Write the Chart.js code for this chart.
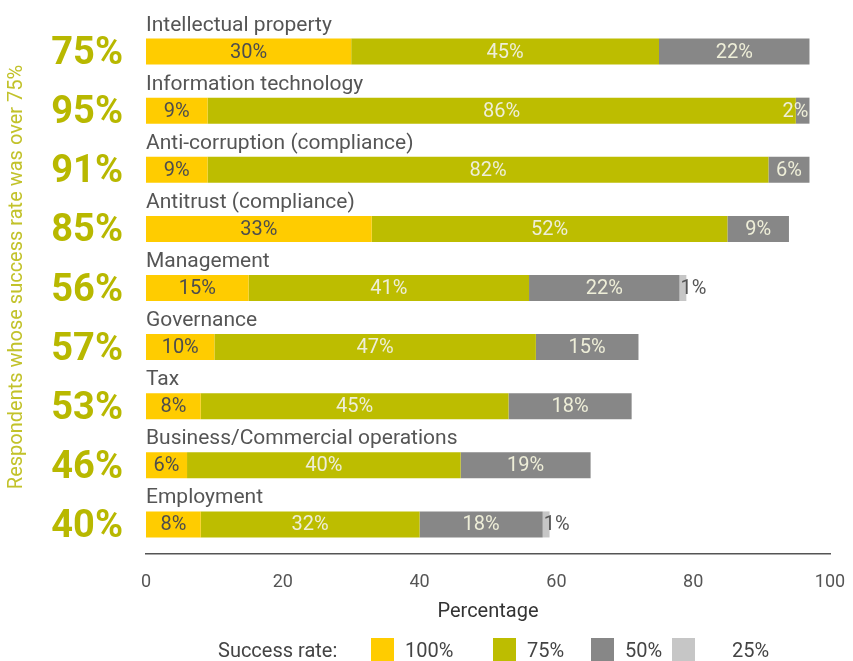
<!DOCTYPE html>
<html lang="en">
<head>
    <meta charset="UTF-8">
    <title>Success rate by area</title>
    <script src="https://cdn.jsdelivr.net/npm/chart.js"></script>
    <style>
        body {
            margin: 0;
            background: #ffffff;
        }
        .chart-box {
            width: 853px;
            height: 661px;
        }
    </style>
</head>
<body>
    <div class="chart-box">
        <canvas id="rateChart"></canvas>
    </div>

    <script>
        const categories = [
            "Intellectual property",
            "Information technology",
            "Anti-corruption (compliance)",
            "Antitrust (compliance)",
            "Management",
            "Governance",
            "Tax",
            "Business/Commercial operations",
            "Employment"
        ];
        // share of respondents whose success rate was over 75%
        const over75 = [75, 95, 91, 85, 56, 57, 53, 46, 40];

        const rate100 = [30, 9, 9, 33, 15, 10, 8, 6, 8];
        const rate75 = [45, 86, 82, 52, 41, 47, 45, 40, 32];
        const rate50 = [22, 2, 6, 9, 22, 15, 18, 19, 18];
        const rate25 = [0, 0, 0, 0, 1, 0, 0, 0, 1];

        const seriesNames = ["100%", "75%", "50%", "25%"];
        const xTicks = [0, 20, 40, 60, 80, 100];

        const colors = ["#ffcc00", "#bdbd00", "#878787", "#c6c6c6"];
        const FONT = "Roboto, 'DejaVu Sans', sans-serif";

        // labels inside the bars, names above them, side title, legend at the bottom
        const extrasPlugin = {
            id: "extras",
            afterDatasetsDraw(chart) {
                const ctx = chart.ctx;
                const yScale = chart.scales.y;
                const area = chart.chartArea;
                ctx.save();

                ctx.font = "21px " + FONT;
                ctx.fillStyle = "#555555";
                ctx.textAlign = "left";
                ctx.textBaseline = "alphabetic";
                categories.forEach((name, i) => {
                    ctx.fillText(name, area.left, yScale.getPixelForValue(i) - 21);
                });

                ctx.font = "20px " + FONT;
                ctx.textBaseline = "middle";
                chart.data.datasets.forEach((ds, d) => {
                    const meta = chart.getDatasetMeta(d);
                    meta.data.forEach((bar, i) => {
                        const v = ds.data[i];
                        if (!v) return;
                        const text = v + "%";
                        const w = ctx.measureText(text).width;
                        const left = Math.min(bar.x, bar.base);
                        const right = Math.max(bar.x, bar.base);
                        if (d === 3) {
                            ctx.fillStyle = "#555555";
                            ctx.textAlign = "left";
                            ctx.fillText(text, left + 1, bar.y + 1);
                        } else if (w > right - left - 2) {
                            ctx.fillStyle = "#eeeed8";
                            ctx.textAlign = "right";
                            ctx.fillText(text, right - 1, bar.y + 1);
                        } else {
                            ctx.fillStyle = d === 0 ? "#4d4d4d" : "#eeeed8";
                            ctx.textAlign = "center";
                            ctx.fillText(text, (left + right) / 2, bar.y + 1);
                        }
                    });
                });

                // rotated side title
                ctx.save();
                ctx.translate(17, 277);
                ctx.rotate(-Math.PI / 2);
                ctx.font = "20px " + FONT;
                ctx.fillStyle = "#c2c22a";
                ctx.textAlign = "center";
                ctx.fillText("Respondents whose success rate was over 75%", 0, 0);
                ctx.restore();

                // legend
                ctx.font = "20px " + FONT;
                ctx.textAlign = "left";
                ctx.textBaseline = "middle";
                ctx.fillStyle = "#444444";
                const ly = 652;
                ctx.fillText("Success rate:", 218, ly);
                const boxX = [371, 493, 591, 672];
                seriesNames.forEach((s, k) => {
                    ctx.fillStyle = colors[k];
                    ctx.fillRect(boxX[k], 638, 23, 26);
                    ctx.fillStyle = "#444444";
                    ctx.fillText(s, boxX[k] + (k === 3 ? 60 : 34), ly);
                });
                ctx.restore();
            }
        };

        const ctx = document.getElementById("rateChart").getContext("2d");

        const rateChart = new Chart(ctx, {
            type: "bar",
            data: {
                labels: categories,
                datasets: [
                    { label: seriesNames[0], data: rate100, backgroundColor: colors[0] },
                    { label: seriesNames[1], data: rate75, backgroundColor: colors[1] },
                    { label: seriesNames[2], data: rate50, backgroundColor: colors[2] },
                    { label: seriesNames[3], data: rate25, backgroundColor: colors[3] }
                ]
            },
            options: {
                indexAxis: "y",
                responsive: true,
                maintainAspectRatio: false,
                animation: false,
                barPercentage: 0.44,
                categoryPercentage: 1,
                layout: {
                    padding: { top: 22, right: 23, bottom: 37, left: 0 }
                },
                plugins: {
                    legend: { display: false },
                    tooltip: { enabled: false }
                },
                scales: {
                    x: {
                        stacked: true,
                        min: 0,
                        max: 100,
                        afterBuildTicks: (scale) => {
                            scale.ticks = xTicks.map(v => ({ value: v }));
                        },
                        afterFit: (scale) => {
                            scale.height = 70;
                            scale.paddingLeft = 0;
                            scale.paddingRight = 0;
                        },
                        grid: { display: false, drawTicks: false },
                        border: { display: true, color: "#555555", width: 1.5 },
                        ticks: {
                            padding: 18,
                            color: "#555555",
                            font: { family: FONT, size: 18 }
                        },
                        title: {
                            display: true,
                            text: "Percentage",
                            color: "#333333",
                            padding: { top: 4, bottom: 0 },
                            font: { family: FONT, size: 20 }
                        }
                    },
                    y: {
                        stacked: true,
                        afterFit: (scale) => {
                            scale.width = 146;
                            scale.paddingTop = 0;
                            scale.paddingBottom = 0;
                        },
                        grid: { display: false, drawTicks: false },
                        border: { display: false },
                        ticks: {
                            padding: 23,
                            labelOffset: 3,
                            color: "#b8b800",
                            font: { family: FONT, size: 38, weight: "bold" },
                            callback: (value, index) => over75[index] + "%"
                        }
                    }
                }
            },
            plugins: [extrasPlugin]
        });
    </script>
</body>
</html>
